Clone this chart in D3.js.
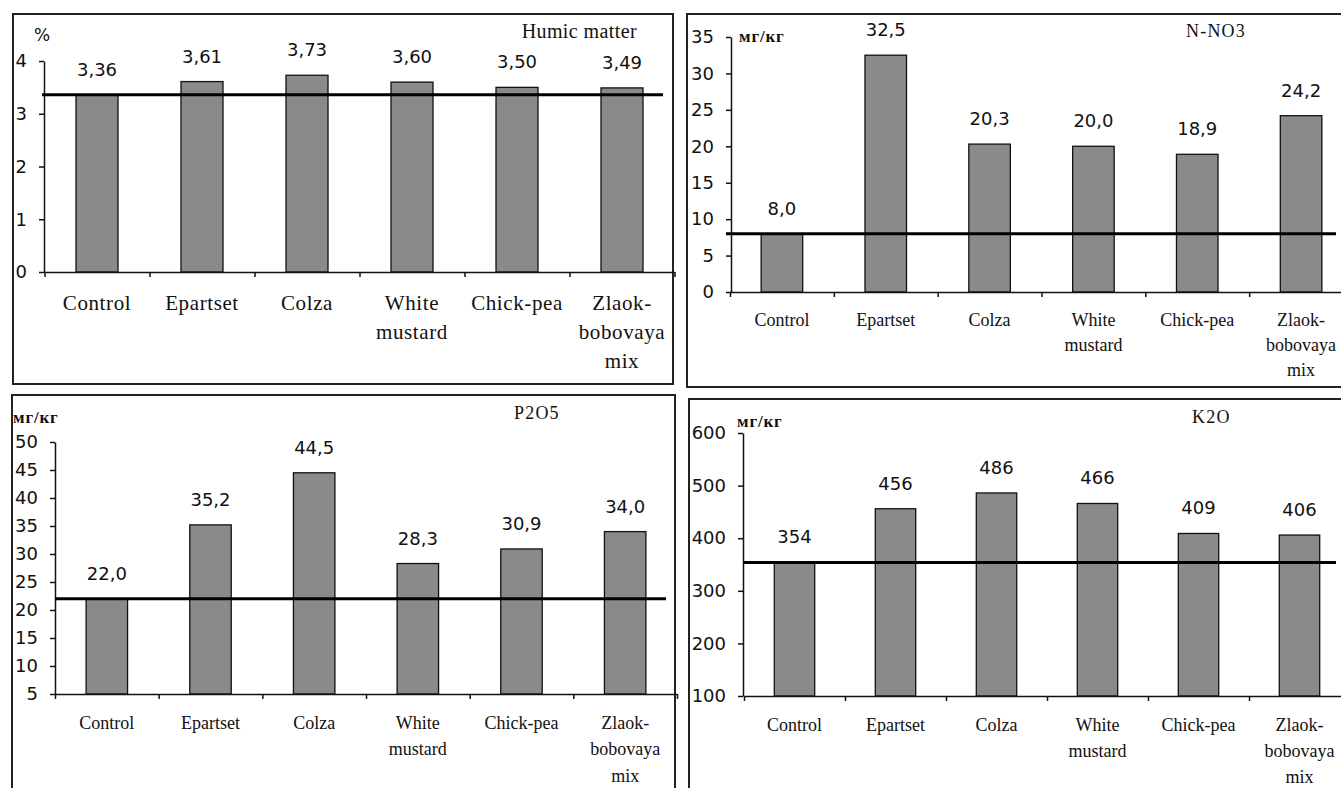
<!DOCTYPE html>
<html>
<head>
<meta charset="utf-8">
<script src="https://cdn.jsdelivr.net/npm/d3@7"></script>
<style>
  html, body { margin: 0; padding: 0; background: #fff; }
  svg { display: block; }
</style>
</head>
<body>
<svg id="chart" width="1341" height="788"></svg>
<script>
// ---------- DATA ----------
const categories = ["Control", "Epartset", "Colza", "White mustard", "Chick-pea", "Zlaok-bobovaya mix"];
const categoryLines = [["Control"], ["Epartset"], ["Colza"], ["White", "mustard"], ["Chick-pea"], ["Zlaok-", "bobovaya", "mix"]];

const humicValues = [3.36, 3.61, 3.73, 3.60, 3.50, 3.49];
const nno3Values  = [8.0, 32.5, 20.3, 20.0, 18.9, 24.2];
const p2o5Values  = [22.0, 35.2, 44.5, 28.3, 30.9, 34.0];
const k2oValues   = [354, 456, 486, 466, 409, 406];

const humicTicks = [0, 1, 2, 3, 4];
const nno3Ticks  = [0, 5, 10, 15, 20, 25, 30, 35];
const p2o5Ticks  = [5, 10, 15, 20, 25, 30, 35, 40, 45, 50];
const k2oTicks   = [100, 200, 300, 400, 500, 600];

const titles = ["Humic matter", "N-NO3", "P2O5", "K2O"];
const units  = ["%", "мг/кг", "мг/кг", "мг/кг"];

// ---------- LAYOUT ----------
const panels = [
  { values: humicValues, ticks: humicTicks, decimals: 2, domain: [0, 4],
    border: [13, 14, 673, 384], xRange: [44.5, 674.5], yRange: [272, 61], axisX: 44,
    lineX: [42, 663],
    title: { x: 637, y: 38, anchor: "end", font: "'Liberation Serif', serif", size: 20, ls: 0.4 },
    unit: { x: 42, y: 41, anchor: "middle", font: "'DejaVu Sans', sans-serif", size: 17, weight: "normal", ls: 0 },
    cat: { font: "'Liberation Serif', serif", size: 21, ls: 0.6, baselines: [310, 339, 368] } },
  { values: nno3Values, ticks: nno3Ticks, decimals: 1, domain: [0, 35],
    border: [687, 14, 1347, 387], xRange: [730, 1353], yRange: [292, 37], axisX: 731,
    lineX: [726, 1336],
    title: { x: 1186, y: 37, anchor: "start", font: "'Liberation Serif', serif", size: 18, ls: 1.2 },
    unit: { x: 739, y: 42, anchor: "start", font: "'Liberation Serif', serif", size: 17, weight: "bold", ls: 0.8 },
    cat: { font: "'Liberation Serif', serif", size: 18, ls: 0, baselines: [326, 351, 376] } },
  { values: p2o5Values, ticks: p2o5Ticks, decimals: 1, domain: [5, 50],
    border: [12, 395, 675, 800], xRange: [55, 677], yRange: [694, 442], axisX: 55,
    lineX: [55, 666],
    title: { x: 514, y: 419, anchor: "start", font: "'Liberation Serif', serif", size: 18, ls: 1.2 },
    unit: { x: 13, y: 423, anchor: "start", font: "'Liberation Serif', serif", size: 17, weight: "bold", ls: 0.8 },
    cat: { font: "'Liberation Serif', serif", size: 18, ls: 0, baselines: [729, 755, 782] } },
  { values: k2oValues, ticks: k2oTicks, decimals: 0, domain: [100, 600],
    border: [689, 399, 1347, 800], xRange: [744, 1350], yRange: [696, 433], axisX: 743,
    lineX: [743, 1336],
    title: { x: 1192, y: 423, anchor: "start", font: "'Liberation Serif', serif", size: 18, ls: 1.2 },
    unit: { x: 737, y: 427, anchor: "start", font: "'Liberation Serif', serif", size: 17, weight: "bold", ls: 0.8 },
    cat: { font: "'Liberation Serif', serif", size: 18, ls: 0, baselines: [731, 757, 783] } }
];

const svg = d3.select("#chart");
svg.append("rect").attr("width", 1341).attr("height", 788).attr("fill", "#fff");

const valueFont = "'DejaVu Sans', Verdana, sans-serif";

panels.forEach((p, pi) => {
  const g = svg.append("g");
  const [bx0, by0, bx1, by1] = p.border;
  g.append("rect")
    .attr("x", bx0).attr("y", by0)
    .attr("width", bx1 - bx0).attr("height", by1 - by0)
    .attr("fill", "#fff").attr("stroke", "#222").attr("stroke-width", 2);

  const x = d3.scaleBand().domain(categories).range(p.xRange).paddingInner(0).paddingOuter(0);
  const y = d3.scaleLinear().domain(p.domain).range(p.yRange);
  const barW = x.bandwidth() * 0.4;

  // bars
  g.selectAll("rect.bar").data(p.values).join("rect")
    .attr("class", "bar")
    .attr("x", (d, i) => x(categories[i]) + (x.bandwidth() - barW) / 2)
    .attr("y", d => y(d))
    .attr("width", barW)
    .attr("height", d => y(p.domain[0]) - y(d))
    .attr("fill", "#8a8a8a")
    .attr("stroke", "#111")
    .attr("stroke-width", 1.3);

  // y axis
  const yAxis = d3.axisLeft(y).tickValues(p.ticks).tickSize(5).tickSizeOuter(0).tickPadding(12)
    .tickFormat(d3.format("d"));
  const ya = g.append("g").attr("transform", `translate(${p.axisX},0)`).call(yAxis);
  ya.select(".domain").attr("stroke", "#111").attr("stroke-width", 1.5);
  ya.selectAll(".tick line").attr("stroke", "#111").attr("stroke-width", 1.5);
  ya.selectAll(".tick text").attr("font-family", valueFont).attr("font-size", 18).attr("fill", "#111");

  // x axis (ticks at category boundaries)
  const xb = d3.scaleLinear().domain([0, categories.length]).range(p.xRange);
  const xAxis = d3.axisBottom(xb).tickValues(d3.range(categories.length + 1)).tickSize(5).tickSizeOuter(0).tickFormat("");
  const xa = g.append("g").attr("transform", `translate(0,${y(p.domain[0])})`).call(xAxis);
  xa.select(".domain").attr("stroke", "#111").attr("stroke-width", 1.5);
  xa.selectAll(".tick line").attr("stroke", "#111").attr("stroke-width", 1.5);

  // reference line at control value
  g.append("line")
    .attr("x1", p.lineX[0]).attr("x2", p.lineX[1])
    .attr("y1", y(p.values[0])).attr("y2", y(p.values[0]))
    .attr("stroke", "#000").attr("stroke-width", 3);

  // value labels
  const fmt = v => d3.format(`.${p.decimals}f`)(v).replace(".", ",");
  g.selectAll("text.val").data(p.values).join("text")
    .attr("class", "val")
    .attr("x", (d, i) => x(categories[i]) + x.bandwidth() / 2)
    .attr("y", d => y(d) - 19)
    .attr("text-anchor", "middle")
    .attr("font-family", valueFont)
    .attr("font-size", 18)
    .attr("fill", "#111")
    .text(fmt);

  // category labels
  categoryLines.forEach((lines, i) => {
    const t = g.append("text")
      .attr("text-anchor", "middle")
      .attr("font-family", p.cat.font)
      .attr("font-size", p.cat.size)
      .attr("letter-spacing", p.cat.ls)
      .attr("fill", "#111");
    lines.forEach((ln, li) => {
      t.append("tspan")
        .attr("x", x(categories[i]) + x.bandwidth() / 2)
        .attr("y", p.cat.baselines[li])
        .text(ln);
    });
  });

  // title
  g.append("text")
    .attr("x", p.title.x).attr("y", p.title.y)
    .attr("text-anchor", p.title.anchor)
    .attr("font-family", p.title.font)
    .attr("font-size", p.title.size)
    .attr("letter-spacing", p.title.ls)
    .attr("fill", "#111")
    .text(titles[pi]);

  // unit
  g.append("text")
    .attr("x", p.unit.x).attr("y", p.unit.y)
    .attr("text-anchor", p.unit.anchor)
    .attr("font-family", p.unit.font)
    .attr("font-size", p.unit.size)
    .attr("font-weight", p.unit.weight)
    .attr("letter-spacing", p.unit.ls)
    .attr("fill", "#111")
    .text(units[pi]);
});
</script>
</body>
</html>
